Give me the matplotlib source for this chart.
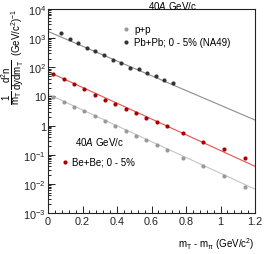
import math

import matplotlib
matplotlib.use("Agg")
import matplotlib.pyplot as plt
from matplotlib.lines import Line2D
from matplotlib.ticker import FixedLocator, FuncFormatter, LogLocator, MultipleLocator, NullFormatter

plt.rcParams["font.family"] = ["Liberation Sans", "DejaVu Sans"]
plt.rcParams["mathtext.fontset"] = "custom"
plt.rcParams["mathtext.rm"] = "Liberation Sans"
plt.rcParams["mathtext.it"] = "Liberation Sans:italic"
plt.rcParams["mathtext.bf"] = "Liberation Sans:bold"

# ---- data ----
pbpb_x = [0.075, 0.125, 0.175, 0.225, 0.275, 0.325, 0.375, 0.425, 0.475,
          0.525, 0.575, 0.625, 0.675, 0.725]
pbpb_y = [1510, 930, 680, 470, 360, 265, 178, 141, 98, 87, 63, 50, 36, 29]

bebe_x = [0.03, 0.09, 0.15, 0.21, 0.27, 0.33, 0.39, 0.45, 0.51, 0.57, 0.63,
          0.69, 0.78, 0.90, 1.02, 1.14]
bebe_y = [60, 40, 26, 17.4, 11.5, 7.8, 5.5, 3.7, 2.6, 1.86, 1.29, 0.93,
          0.55, 0.27, 0.155, 0.076]

pp_x = bebe_x
pp_y = [9.8, 6.3, 4.5, 3.1, 2.1, 1.45, 0.93, 0.66, 0.45, 0.31, 0.22, 0.145,
        0.079, 0.040, 0.019, 0.0076]

# exponential fits: end points of the straight lines on the log scale
fit_x = [0.0, 1.2]
fit_pbpb = [1700, 1.55]
fit_bebe = [70.8, 0.040]
fit_pp = [12.0, 0.0066]

x_ticks = [0, 0.2, 0.4, 0.6, 0.8, 1.0, 1.2]
y_ticks = [1e-3, 1e-2, 1e-1, 1, 10, 1e2, 1e3, 1e4]

W, H = 266, 255
fig = plt.figure(figsize=(W / 100, H / 100), dpi=100)
fig.patch.set_facecolor("white")


def fx(px):
    return px / W


def fy(py):
    return 1 - py / H


ax = fig.add_axes([fx(48), fy(214), (255 - 48) / W, (214 - 10) / H])
ax.set_yscale("log")
ax.set_xlim(0, 1.2)
ax.set_ylim(1e-3, 1e4)

GRAY = "#999999"
BLACK = "#333333"
RED = "#a80000"

ax.plot(fit_x, fit_pp, color="#c4c4c4", lw=0.8, zorder=1)
ax.plot(fit_x, fit_bebe, color="#e85050", lw=0.8, zorder=1)
ax.plot(fit_x, fit_pbpb, color="#8c8c8c", lw=0.8, zorder=1)

ms = 3.0
ax.plot(pp_x, pp_y, "o", color=GRAY, ms=ms, mew=0, zorder=3)
ax.plot(bebe_x, bebe_y, "o", color=RED, ms=ms, mew=0, zorder=3)
ax.plot(pbpb_x, pbpb_y, "o", color=BLACK, ms=ms, mew=0, zorder=3)

# ---- axes style (ROOT-like) ----
for s in ax.spines.values():
    s.set_linewidth(0.8)
    s.set_color("#222222")
ax.xaxis.set_major_locator(FixedLocator(x_ticks))
ax.xaxis.set_minor_locator(MultipleLocator(0.04))
ax.xaxis.set_major_formatter(FuncFormatter(lambda v, _: f"{v:g}"))
ax.yaxis.set_major_locator(FixedLocator(y_ticks))
ax.yaxis.set_minor_locator(LogLocator(base=10, subs=range(2, 10), numticks=20))
ax.yaxis.set_minor_formatter(NullFormatter())


def ylab(v, _):
    if v == 1:
        return "1"
    if v == 10:
        return "10"
    e = int(round(math.log10(v)))
    return r"$\mathrm{10^{%d}}$" % e


ax.yaxis.set_major_formatter(FuncFormatter(ylab))
ax.tick_params(which="both", direction="in", top=False, right=False,
               labelsize=7.8, colors="#222222", width=0.7)
ax.tick_params(which="major", length=5)
ax.tick_params(which="minor", length=2.5)
ax.tick_params(axis="x", pad=2)
ax.tick_params(axis="y", pad=1.5)

# ---- axis titles ----
fig.text(fx(255), fy(244), r"m$_{\mathrm{T}}$ - m$_{\mathrm{\pi}}$ (GeV/c$^{2}$)",
         ha="right", va="center", fontsize=7)
fig.text(fx(12.5), fy(82),
         r"$\dfrac{\mathrm{1}}{\mathrm{m_{T}}}\,\dfrac{\mathrm{d^{2}n}}{\mathrm{dydm_{T}}}$",
         rotation=90, ha="center", va="center", fontsize=7)
fig.text(fx(17), fy(32), r"(GeV/c$^{2}$)$^{-1}$",
         rotation=90, ha="center", va="center", fontsize=7)

# ---- legends ----
fig.text(fx(148), fy(6), r"40$\mathit{A}$ GeV/c", ha="left", va="center", fontsize=7)
fig.add_artist(Line2D([fx(126)], [fy(30)], marker="o", color=GRAY, ms=ms, mew=0, ls=""))
fig.text(fx(134), fy(30), "p+p", ha="left", va="center", fontsize=7)
fig.add_artist(Line2D([fx(126)], [fy(43)], marker="o", color=BLACK, ms=ms, mew=0, ls=""))
fig.text(fx(134), fy(43), "Pb+Pb; 0 - 5% (NA49)", ha="left", va="center", fontsize=7)

fig.text(fx(75), fy(142), r"40$\mathit{A}$ GeV/c", ha="left", va="center", fontsize=7)
fig.add_artist(Line2D([fx(65)], [fy(163)], marker="o", color=RED, ms=ms, mew=0, ls=""))
fig.text(fx(72), fy(163), "Be+Be; 0 - 5%", ha="left", va="center", fontsize=7)

fig.savefig("out.png", dpi=100, facecolor="white")
